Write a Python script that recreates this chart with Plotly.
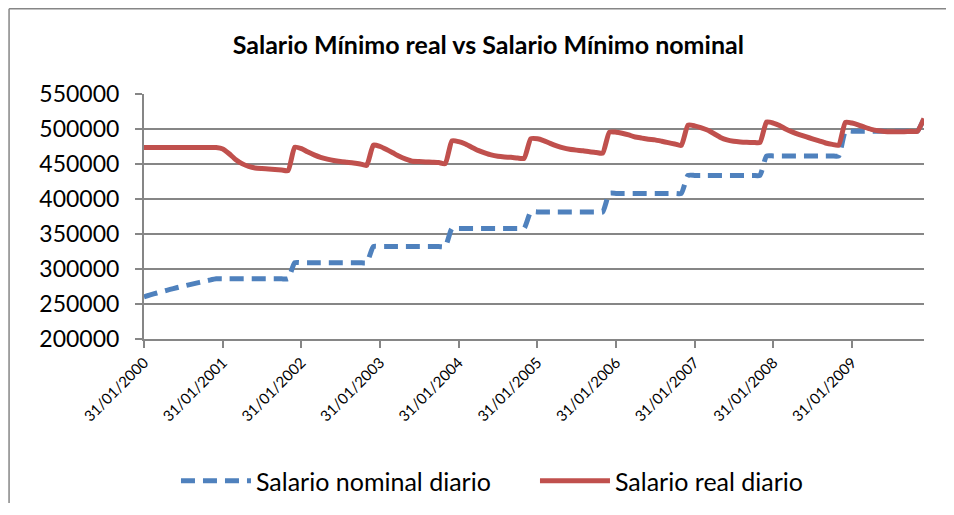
import pandas as pd
import plotly.graph_objects as go

# fechas de fin de mes, ene-2000 a dic-2009
fechas = pd.date_range("2000-01-31", periods=120, freq="ME")

# salario nominal diario (una fila por año, ene..dic)
nominal = [
    260100, 263000, 265700, 268300, 270800, 273200, 275500, 277700, 279900, 282000, 284100, 286000,
    286000, 286000, 286000, 286000, 286000, 286000, 286000, 286000, 286000, 286000, 286000, 309000,
    309000, 309000, 309000, 309000, 309000, 309000, 309000, 309000, 309000, 309000, 309000, 332000,
    332000, 332000, 332000, 332000, 332000, 332000, 332000, 332000, 332000, 332000, 332000, 358000,
    358000, 358000, 358000, 358000, 358000, 358000, 358000, 358000, 358000, 358000, 358000, 381500,
    381500, 381500, 381500, 381500, 381500, 381500, 381500, 381500, 381500, 381500, 381500, 408000,
    408000, 408000, 408000, 408000, 408000, 408000, 408000, 408000, 408000, 408000, 408000, 433700,
    433700, 433700, 433700, 433700, 433700, 433700, 433700, 433700, 433700, 433700, 433700, 461500,
    461500, 461500, 461500, 461500, 461500, 461500, 461500, 461500, 461500, 461500, 461500, 496900,
    496900, 496900, 496900, 496900, 496900, 496900, 496900, 496900, 496900, 496900, 496900, 515000,
]

# salario real diario
real = [
    473500, 473500, 473500, 473500, 473500, 473500, 473500, 473500, 473500, 473500, 473500, 473500,
    471500, 465000, 456500, 450500, 446500, 444300, 443500, 443000, 442300, 441500, 440500, 474000,
    472000, 467500, 463000, 459500, 457000, 455000, 453500, 452500, 451500, 450000, 448000, 477000,
    475000, 471000, 466000, 461000, 457000, 454000, 453500, 453000, 452500, 452000, 450500, 483000,
    482000, 479000, 474000, 469500, 466000, 463000, 461000, 460000, 459500, 458500, 458000, 486000,
    486000, 483500, 479500, 476000, 473000, 471000, 469800, 468800, 467500, 466500, 465500, 495500,
    495500, 494000, 491500, 488500, 487000, 485500, 484500, 482500, 480500, 478500, 476500, 505500,
    504500, 502000, 498500, 493500, 488000, 484500, 482500, 481500, 481000, 480800, 480600, 510000,
    508500, 505000, 499500, 495500, 492000, 489000, 486000, 483000, 480000, 478000, 477000, 509500,
    508500, 506000, 502500, 499500, 497500, 496500, 496000, 496000, 496200, 496400, 496700, 515000,
]

ticks_x = fechas[::12]
gris = "#868686"

fig = go.Figure()
fig.add_trace(go.Scatter(x=fechas, y=nominal, mode="lines", name="Salario nominal diario",
                         line=dict(color="#4F81BD", width=5, dash="14px,8px",
                                   shape="spline", smoothing=0.5)))
fig.add_trace(go.Scatter(x=fechas, y=real, mode="lines", name="Salario real diario",
                         line=dict(color="#C0504D", width=5, shape="spline", smoothing=0.5)))

# el body de la página tiene 8px de margen; la figura se achica para no desbordar
fig.update_layout(
    width=940, height=495,
    margin=dict(l=136, r=24, t=86, b=164, autoexpand=False),
    paper_bgcolor="white", plot_bgcolor="white",
    font=dict(family="Lato, Open Sans, sans-serif", color="black", size=23),
    title=dict(text="<b>Salario Mínimo real vs Salario Mínimo nominal</b>",
               x=0.511, xanchor="center", y=0.925, yanchor="middle", yref="container",
               font=dict(size=25)),
    legend=dict(orientation="h", x=0.041, xanchor="left", y=-0.58, yanchor="middle",
                font=dict(size=25), itemwidth=70, entrywidth=274, traceorder="normal"),
    showlegend=True,
)
fig.update_xaxes(range=[fechas[0], fechas[-1]], tickvals=ticks_x, tickformat="%d/%m/%Y",
                 tickangle=-45, tickfont=dict(size=15), showgrid=False,
                 showline=True, linecolor=gris, linewidth=2,
                 ticks="outside", ticklen=7, tickcolor=gris, tickwidth=2)
fig.update_yaxes(range=[200000, 550000], dtick=50000, tickformat="d",
                 showgrid=True, gridcolor=gris, gridwidth=2,
                 showline=True, linecolor=gris, linewidth=2,
                 ticks="outside", ticklen=7, tickcolor=gris, tickwidth=2, zeroline=False,
                 ticklabelstandoff=11)

# borde del gráfico: solo se ven el lado superior y el izquierdo
borde = dict(color=gris, width=1.5)
fig.add_shape(type="line", xref="paper", yref="paper", x0=-0.173, x1=1.1, y0=1.348, y1=1.348,
              line=borde, layer="below")
fig.add_shape(type="line", xref="paper", yref="paper", x0=-0.173, x1=-0.173, y0=-0.9, y1=1.348,
              line=borde, layer="below")

fig.write_html("out.html")
